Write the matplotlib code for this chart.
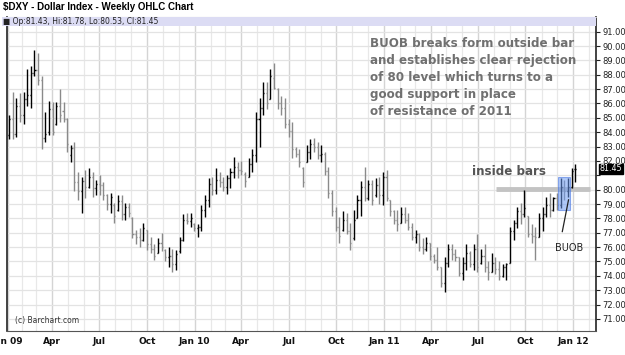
import numpy as np
import pandas as pd
import matplotlib
matplotlib.use("Agg")
import matplotlib.pyplot as plt
import matplotlib.dates as mdates
from matplotlib.patches import Rectangle

highs = [85.2, 86.8, 86.4, 86.7, 86.8, 88.4, 88.6, 89.7, 89.5, 87.9,
         85.4, 86.2, 86.1, 86.1, 87.0, 86.1, 85.0, 83.1, 83.3, 81.2,
         80.9, 81.4, 81.5, 81.2, 80.7, 81.0, 80.5, 79.7, 79.8, 79.1,
         79.6, 79.6, 79.1, 79.1, 78.1, 77.2, 77.3, 77.7, 77.2, 76.7,
         76.2, 76.6, 77.0, 75.9, 76.0, 75.9, 75.8, 76.7, 78.3, 78.4,
         78.4, 77.7, 77.6, 78.9, 79.6, 80.8, 80.9, 81.5, 81.2, 80.9,
         81.0, 81.5, 82.3, 81.9, 82.0, 81.2, 82.2, 82.8, 85.4, 86.4,
         87.5, 87.5, 88.4, 88.8, 87.1, 86.5, 86.4, 84.9, 84.7, 83.0,
         82.8, 81.6, 83.1, 83.5, 83.6, 83.3, 83.1, 82.6, 81.6, 80.0,
         78.8, 78.1, 78.5, 78.4, 77.7, 78.6, 79.6, 80.6, 81.6, 80.7,
         80.7, 80.8, 80.9, 81.2, 81.4, 79.3, 78.6, 78.6, 78.8, 78.8,
         78.4, 77.7, 77.2, 77.0, 76.6, 76.7, 76.3, 75.5, 76.0, 74.6,
         75.3, 76.2, 76.2, 75.9, 75.3, 75.3, 76.2, 75.7, 76.2, 76.9,
         75.9, 76.2, 75.0, 75.6, 75.3, 75.0, 74.8, 74.9, 77.4, 77.9,
         78.8, 79.1, 80.0, 78.2, 77.6, 77.4, 78.4, 78.8, 79.5, 79.8,
         79.5, 79.8, 80.8, 80.7, 80.8, 81.5, 81.78]
lows = [83.5, 83.5, 83.7, 84.7, 84.6, 85.8, 85.7, 87.9, 87.3, 82.8,
        83.3, 83.8, 83.8, 84.5, 84.7, 84.7, 82.6, 81.9, 79.9, 79.3,
        78.4, 79.4, 80.1, 79.5, 79.6, 79.6, 79.3, 78.6, 78.4, 77.7,
        78.5, 77.9, 77.9, 78.1, 76.6, 76.2, 76.0, 76.4, 75.8, 75.6,
        75.1, 75.6, 75.7, 75.0, 74.6, 74.3, 74.4, 75.6, 76.4, 77.6,
        77.4, 77.1, 76.7, 77.1, 78.1, 78.8, 79.6, 79.7, 80.2, 79.9,
        79.7, 80.1, 80.8, 80.8, 81.0, 80.2, 80.9, 81.2, 81.9, 83.0,
        85.2, 85.6, 86.3, 87.0, 85.6, 85.2, 84.3, 83.7, 82.2, 82.3,
        81.6, 80.2, 81.9, 82.1, 82.6, 82.1, 81.9, 81.0, 79.4, 78.2,
        77.1, 76.3, 77.1, 76.9, 75.8, 76.5, 78.0, 78.2, 79.2, 79.3,
        78.9, 79.5, 79.0, 78.9, 79.2, 78.2, 77.6, 77.1, 77.7, 77.7,
        77.2, 76.5, 76.3, 75.7, 75.5, 75.7, 75.1, 74.9, 74.4, 73.2,
        72.9, 74.6, 75.1, 75.0, 74.0, 73.7, 74.4, 74.6, 74.4, 74.3,
        74.8, 74.3, 73.7, 74.3, 74.1, 73.7, 73.9, 73.7, 74.9, 76.5,
        77.3, 77.6, 78.1, 76.7, 76.3, 75.1, 76.7, 77.1, 78.1, 78.1,
        78.5, 78.6, 78.7, 79.3, 79.5, 80.1, 80.53]
opens = [83.8, 84.9, 83.9, 85.8, 85.2, 86.3, 86.6, 88.1, 88.3, 87.6,
         83.6, 84.0, 85.6, 84.6, 85.8, 85.5, 84.9, 82.4, 82.9, 80.5,
         79.9, 80.6, 80.2, 80.9, 80.1, 80.4, 80.3, 79.6, 79.0, 78.9,
         78.6, 79.2, 78.3, 78.8, 78.0, 76.9, 76.7, 76.5, 77.2, 76.2,
         75.9, 75.6, 76.3, 75.8, 75.3, 75.4, 74.8, 75.7, 76.5, 77.9,
         77.8, 77.6, 77.3, 77.4, 78.6, 79.3, 80.4, 80.0, 80.7, 80.5,
         80.2, 80.8, 81.2, 81.6, 81.4, 81.1, 80.9, 81.8, 82.4, 84.9,
         85.7, 86.7, 86.3, 87.8, 87.0, 86.0, 85.7, 84.6, 84.1, 82.8,
         82.5, 81.5, 81.9, 82.6, 83.2, 83.0, 82.4, 82.5, 81.3, 79.8,
         78.5, 77.4, 77.2, 77.9, 77.1, 76.6, 78.0, 79.3, 80.2, 79.4,
         80.4, 79.6, 80.3, 79.6, 80.9, 79.3, 78.5, 77.9, 77.7, 78.3,
         77.9, 77.4, 76.7, 76.9, 76.0, 75.9, 76.3, 75.4, 75.1, 74.6,
         73.5, 74.9, 75.9, 75.5, 75.3, 74.2, 74.9, 75.6, 74.8, 75.9,
         74.9, 75.4, 74.6, 74.3, 74.9, 74.5, 74.0, 74.6, 74.9, 77.1,
         77.7, 78.5, 78.3, 78.2, 76.9, 76.8, 76.7, 78.0, 78.3, 78.9,
         78.6, 79.4, 78.9, 80.2, 79.9, 80.2, 81.43]
closes = [84.9, 83.9, 85.8, 85.2, 86.3, 86.6, 88.1, 88.3, 87.6, 83.6,
          83.9, 85.6, 84.0, 85.8, 85.2, 84.9, 83.2, 82.9, 80.5, 79.9,
          80.6, 80.2, 80.9, 80.1, 80.4, 80.3, 79.6, 79.0, 79.5, 78.2,
          79.2, 78.3, 78.8, 78.4, 76.9, 76.7, 76.5, 77.3, 76.2, 75.9,
          75.4, 76.3, 76.0, 75.3, 75.4, 74.8, 75.5, 76.5, 77.9, 77.8,
          78.0, 77.3, 77.4, 78.6, 79.3, 80.4, 80.0, 80.7, 80.5, 80.2,
          80.8, 81.2, 81.6, 81.4, 81.3, 80.6, 81.8, 82.4, 84.9, 85.7,
          86.7, 86.0, 87.9, 87.1, 86.0, 85.7, 84.6, 84.1, 82.8, 82.5,
          81.9, 80.5, 82.6, 83.2, 83.0, 82.4, 82.5, 81.3, 79.8, 78.5,
          77.4, 76.8, 77.9, 77.1, 76.3, 77.9, 79.3, 80.2, 79.4, 80.4,
          79.3, 80.3, 79.6, 80.9, 79.4, 78.5, 77.9, 77.6, 78.3, 77.9,
          77.4, 76.7, 76.9, 76.0, 75.9, 76.3, 75.4, 75.1, 74.6, 73.5,
          74.9, 75.9, 75.5, 75.3, 74.2, 74.9, 75.6, 74.8, 75.9, 74.6,
          75.4, 74.6, 74.3, 74.9, 74.5, 74.0, 74.6, 74.8, 77.1, 77.7,
          78.5, 78.3, 78.7, 76.9, 76.8, 76.7, 78.0, 78.3, 78.9, 78.6,
          79.4, 78.9, 80.2, 79.9, 80.2, 81.3, 81.45]
weeks = pd.date_range("2009-01-08", periods=len(closes), freq="7D")

y_ticks = list(range(71, 92))
quarter_ticks = pd.to_datetime(["2009-01-05", "2009-04-01", "2009-07-01", "2009-10-01",
                                "2010-01-01", "2010-04-01", "2010-07-01", "2010-10-01",
                                "2011-01-01", "2011-04-01", "2011-07-01", "2011-10-01",
                                "2012-01-01"])
quarter_labels = ["Jan 09", "Apr", "Jul", "Oct", "Jan 10", "Apr", "Jul", "Oct",
                  "Jan 11", "Apr", "Jul", "Oct", "Jan 12"]

note = ("BUOB breaks form outside bar\nand establishes clear rejection\n"
        "of 80 level which turns to a\ngood support in place\nof resistance of 2011")

fig = plt.figure(figsize=(6.25, 3.55), dpi=100)
ax = fig.add_axes([7 / 625, 1 - 331 / 355, 589 / 625, 314 / 355])

x = mdates.date2num(weeks)
tick = 2.0
for i in range(len(closes)):
    col = "black" if closes[i] >= opens[i] else "#8a8a8a"
    ax.vlines(x[i], lows[i], highs[i], color=col, lw=1.0, zorder=3)
    ax.hlines(opens[i], x[i] - tick, x[i], color=col, lw=1.0, zorder=3)
    ax.hlines(closes[i], x[i], x[i] + tick, color=col, lw=1.0, zorder=3)

ax.set_xlim(mdates.datestr2num("2009-01-04"), mdates.datestr2num("2012-02-14"))
ax.set_ylim(70.16, 92.02)

# grid
ax.set_yticks(y_ticks)
ax.set_yticklabels(["" if v == 81 else f"{v:.2f}" for v in y_ticks])
ax.set_xticks(mdates.date2num(quarter_ticks))
ax.set_xticklabels(quarter_labels, fontweight="bold", fontsize=6.5)
ax.xaxis.set_minor_locator(mdates.MonthLocator())
ax.grid(True, which="major", axis="y", color="#e3e3e3", lw=0.9, zorder=0)
ax.grid(True, which="major", axis="x", color="#d4d4d4", lw=1.0, zorder=0)
ax.grid(True, which="minor", axis="x", color="#e8e8e8", lw=0.9, zorder=0)
ax.set_axisbelow(True)

ax.yaxis.tick_right()
ax.tick_params(axis="y", which="major", length=3, width=0.8, labelsize=6, pad=1.5, colors="#222")
ax.tick_params(axis="x", which="both", length=0, pad=4, colors="#111")
for s in ["left", "right"]:
    ax.spines[s].set_color("#222")
    ax.spines[s].set_linewidth(1.2)
ax.spines["bottom"].set_color("#555")
ax.spines["top"].set_color("#bbbbbb")

# 80 level, inside-bar box and notes
ax.hlines(80.05, mdates.datestr2num("2011-08-06"), mdates.datestr2num("2012-02-03"),
          color="#c3c3c3", lw=3.5, zorder=2)
x0 = mdates.datestr2num("2011-12-02")
ax.add_patch(Rectangle((x0, 78.6), 23, 2.25, facecolor="#6e9cf2", alpha=0.55,
                       edgecolor="#3f6fe0", lw=0.8, zorder=4))
ax.plot(mdates.datestr2num(["2011-12-11", "2011-12-23"]), [77.08, 79.29],
        color="#222", lw=0.9, zorder=5)
ax.text(mdates.datestr2num("2011-12-25"), 75.95, "BUOB", fontsize=7, color="#222",
        ha="center", va="center")
ax.text(mdates.datestr2num("2011-06-19"), 81.24, "inside bars", fontsize=8.6,
        fontweight="bold", color="#555", ha="left", va="center")
ax.text(mdates.datestr2num("2010-12-05"), 90.65, note, fontsize=8.6, fontweight="bold",
        color="#707070", ha="left", va="top", linespacing=1.4)

# last price tag on the right axis
ax.text(1.006, (81.45 - 70.16) / (92.02 - 70.16), "81.45", transform=ax.transAxes,
        fontsize=5.8, color="white", ha="left", va="center",
        bbox=dict(boxstyle="square,pad=0.1", facecolor="black", edgecolor="black"))

# header, info band and credit
fig.patches.append(Rectangle((2 / 625, 1 - 26 / 355), 594 / 625, 9 / 355,
                             transform=fig.transFigure, facecolor="#dcdcf4",
                             edgecolor="none", zorder=5))
fig.text(3 / 625, 1 - 21.5 / 355, "\u25a0 Op:81.43, Hi:81.78, Lo:80.53, Cl:81.45",
         fontsize=5.5, color="#222", va="center", zorder=6)
fig.text(3 / 625, 1 - 7 / 355, "\\$DXY - Dollar Index - Weekly OHLC Chart",
         fontsize=7, fontweight="bold", family="Liberation Sans", va="center")
fig.text(15 / 625, 1 - 321 / 355, "(c) Barchart.com", fontsize=5.5, color="#333",
         va="center")

fig.savefig("out.png", dpi=100)
